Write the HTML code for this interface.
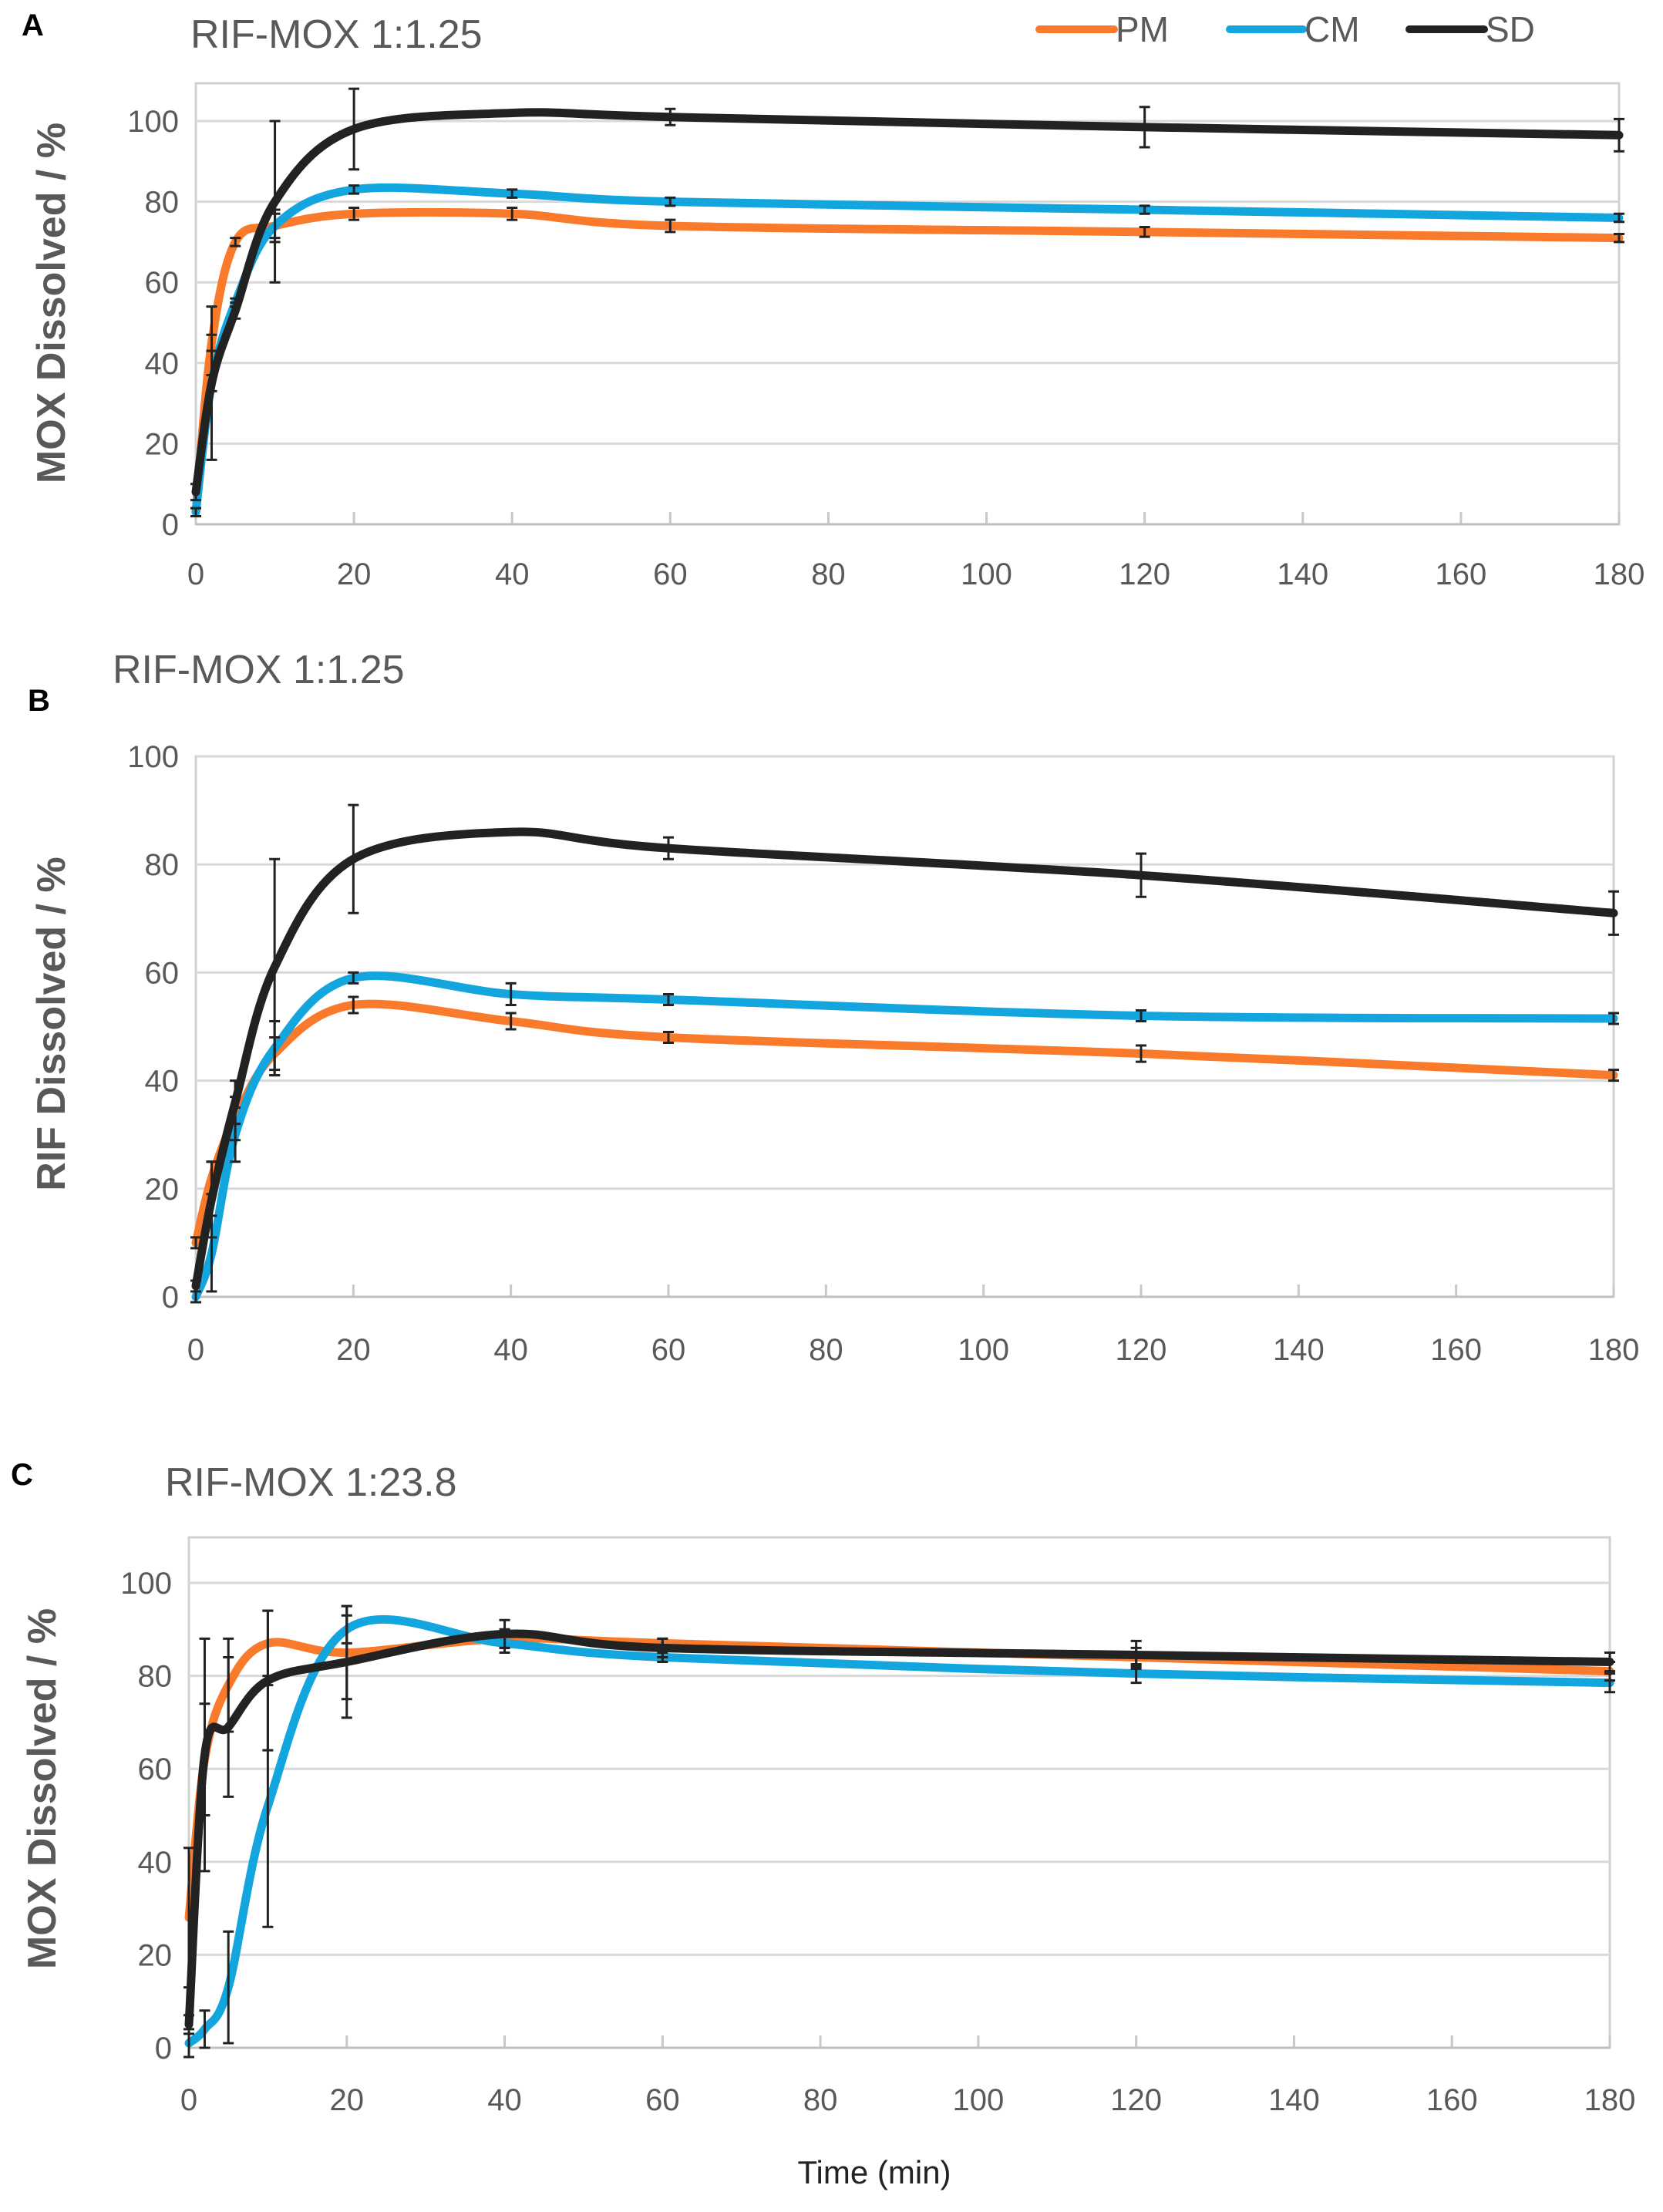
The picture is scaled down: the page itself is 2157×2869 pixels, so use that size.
<!DOCTYPE html>
<html><head><meta charset="utf-8"><style>
body{margin:0;background:#fff}
svg{display:block}
text{font-family:"Liberation Sans",sans-serif}
</style></head><body>
<svg id="s" width="2157" height="2869"></svg>
<script>
const times=[0,2,5,10,20,40,60,120,180];
const xTicks=[0,20,40,60,80,100,120,140,160,180];
const yTicks=[0,20,40,60,80,100];
const aPM=[3,45,70,74,77,77,74,72.5,71];
const aCM=[3,35,55,74,83,82,80,78,76];
const aSD=[8,35,53,80,98,102,101,98.5,96.5];
const aPMerr=[1,2,1,4,1.5,1.5,1.5,1.2,1];
const aCMerr=[1,2,1,3,1,1,1,1,1];
const aSDerr=[2,19,2,20,10,0.5,2,5,4];
const bPM=[10,22,33,45,54,51,48,45,41];
const bCM=[0,8,30,46,59,56,55,52,51.5];
const bSD=[2,18,36,61,81,86,83,78,71];
const bPMerr=[1,3,4,3,1.5,1.5,1,1.5,1];
const bCMerr=[1,7,5,5,1,2,1,1,1];
const bSDerr=[1,7,4,20,10,0.5,2,4,4];
const cPM=[28,62,78,87,85,88,87,84,81];
const cCM=[1,4,13,52,90,87,84,80.5,78.5];
const cSD=[5,63,69,79,83,89,86,84.5,83];
const cPMerr=[15,12,10,7,10,2,1,2,2];
const cCMerr=[3,4,12,26,3,2,1,2,2];
const cSDerr=[2,25,15,15,12,3,2,3,2];
const colors={PM:"#F97A2B",CM:"#12A5DE",SD:"#222222"};
const NS="http://www.w3.org/2000/svg";
const svg=document.getElementById('s');
function mk(t,a,p){const e=document.createElementNS(NS,t);for(const k in a)e.setAttribute(k,a[k]);(p||svg).appendChild(e);return e;}
function txt(s,a,p){const e=mk('text',a,p);e.textContent=s;return e;}
function chart(cfg){
  const g=mk('g',{});
  
  
  const X=v=>cfg.l+(cfg.r-cfg.l)*v/180;
  const Y=v=>cfg.y0-(cfg.y0-cfg.y100)*v/100;
  const fr=mk('rect',{x:cfg.l,y:cfg.top,width:cfg.r-cfg.l,height:cfg.y0-cfg.top,fill:'none',stroke:'#d0d0d0','stroke-width':3},g);
  
  yTicks.forEach(t=>{
    const ln=mk('line',{x1:cfg.l,x2:cfg.r,y1:Y(t),y2:Y(t),stroke:'#d9d9d9','stroke-width':3},g);
    
    const tl=txt(t,{x:cfg.l-22,y:Y(t)+14,'text-anchor':'end','font-size':40,fill:'#595959'},g);
    
  });
  xTicks.forEach(t=>{
    const tk=mk('line',{x1:X(t),x2:X(t),y1:cfg.y0,y2:cfg.y0-16,stroke:'#c8c8c8','stroke-width':3},g);
    
    const tl=txt(t,{x:X(t),y:cfg.xl,'text-anchor':'middle','font-size':40,fill:'#595959'},g);
    
  });
  const ax=mk('line',{x1:cfg.l,x2:cfg.r,y1:cfg.y0,y2:cfg.y0,stroke:'#bfbfbf','stroke-width':3},g);
  
  cfg.series.forEach(s=>{
    const pts=times.map((t,i)=>[X(t),Y(s.v[i])]);
    let d='M'+pts[0][0]+','+pts[0][1];
    for(let i=0;i<pts.length-1;i++){
      const p0=pts[Math.max(0,i-1)],p1=pts[i],p2=pts[i+1],p3=pts[Math.min(pts.length-1,i+2)];
      const c1=[p1[0]+(p2[0]-p0[0])/6,p1[1]+(p2[1]-p0[1])/6];
      const c2=[p2[0]-(p3[0]-p1[0])/6,p2[1]-(p3[1]-p1[1])/6];
      d+=' C'+c1+' '+c2+' '+p2;
    }
    const pa=mk('path',{d:d,fill:'none',stroke:colors[s.k],'stroke-width':11,'stroke-linecap':'round'},g);
    
  });
  cfg.series.forEach(s=>{
    times.forEach((t,i)=>{
      const x=X(t),y1=Y(s.v[i]+s.e[i]),y2=Y(s.v[i]-s.e[i]);
      const eb=mk('path',{d:`M${x},${y1}V${y2}M${x-7},${y1}H${x+7}M${x-7},${y2}H${x+7}`,stroke:'#222','stroke-width':3,fill:'none'},g);
      
    });
  });
  const ti=txt(cfg.title,{x:cfg.tx,y:cfg.ty,'font-size':52,fill:'#595959'},g);
  
  const pl=txt(cfg.panel,{x:cfg.px,y:cfg.py,'font-size':40,'font-weight':'bold',fill:'#000'},g);
  
  const yt=txt(cfg.ytitle,{x:cfg.ytx,y:cfg.yty,'font-size':52,'font-weight':'bold',fill:'#595959','text-anchor':'middle',transform:`rotate(-90 ${cfg.ytx} ${cfg.yty})`},g);
  
}
chart({name:'chart-a',l:254,r:2100,top:108,y0:680,y100:157,xl:758,title:'RIF-MOX 1:1.25',tx:247,ty:62,panel:'A',px:28,py:46,ytitle:'MOX Dissolved / %',ytx:84,yty:393,
 series:[{k:'PM',v:aPM,e:aPMerr},{k:'CM',v:aCM,e:aCMerr},{k:'SD',v:aSD,e:aSDerr}]});
chart({name:'chart-b',l:254,r:2093,top:981,y0:1682,y100:981,xl:1764,title:'RIF-MOX 1:1.25',tx:146,ty:886,panel:'B',px:36,py:922,ytitle:'RIF Dissolved / %',ytx:84,yty:1328,
 series:[{k:'PM',v:bPM,e:bPMerr},{k:'CM',v:bCM,e:bCMerr},{k:'SD',v:bSD,e:bSDerr}]});
chart({name:'chart-c',l:245,r:2088,top:1994,y0:2656,y100:2053,xl:2737,title:'RIF-MOX 1:23.8',tx:214,ty:1940,panel:'C',px:14,py:1926,ytitle:'MOX Dissolved / %',ytx:72,yty:2320,
 series:[{k:'PM',v:cPM,e:cPMerr},{k:'CM',v:cCM,e:cCMerr},{k:'SD',v:cSD,e:cSDerr}]});
const xt=txt('Time (min)',{x:1134,y:2832,'text-anchor':'middle','font-size':42,fill:'#222'});

const leg=[['PM',1348,1445],['CM',1595,1690],['SD',1828,1925]];
leg.forEach(([k,x1,x2])=>{
  const l=mk('line',{x1:x1,x2:x2,y1:38,y2:38,stroke:colors[k],'stroke-width':10,'stroke-linecap':'round'});
  
  const t=txt(k,{x:x2+2,y:54,'font-size':46,fill:'#595959'});
  
});
</script>
</body></html>
